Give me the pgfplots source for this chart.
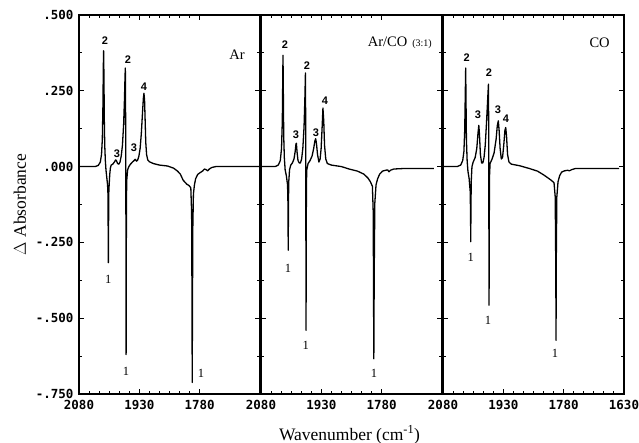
\documentclass[border=0pt]{standalone}
\usepackage{pgfplots}
\pgfplotsset{compat=1.18}
\usepackage{fontspec}
\setmainfont{Liberation Serif}
\newfontfamily\ticksfont{DejaVu Sans Mono}
\newfontfamily\peakfont{Liberation Sans}

\pgfplotsset{
 panel/.style={
  scale only axis, width=181bp, height=379bp,
  xmin=1630, xmax=2080, x dir=reverse,
  ymin=-0.75, ymax=0.5,
  ytick={-0.75,-0.5,-0.25,0,0.25,0.5},
  minor y tick num=1,
  minor x tick num=5,
  tick align=inside,
  major tick length=5bp, minor tick length=3bp,
  axis line style={line width=1.5bp},
  every tick/.style={line width=1bp, black},
  tick label style={font=\ticksfont\bfseries\fontsize{12.5bp}{14bp}\selectfont},
  xticklabel style={yshift=-3bp},
  yticklabel style={xshift=-2bp},
  yticklabels={},
 },
}
\tikzset{
 spec/.style={black, line width=1.3bp, line join=round},
 pk/.style={font=\peakfont\bfseries\fontsize{11bp}{12bp}\selectfont, inner sep=0pt},
 one/.style={font=\fontsize{12.5bp}{13bp}\selectfont, inner sep=0pt},
}

\begin{document}
\begin{tikzpicture}
\useasboundingbox (0,0) rectangle (639bp,443bp);

% ---------------- Panel 1: Ar
\begin{axis}[panel, at={(79bp,49bp)}, anchor=south west,
  xtick={2080,1930,1780}, xticklabels={2080,1930,1780},
  yticklabels={-.750,-.500,-.250,.000,.250,.500},
  ylabel={$\Delta$ Absorbance},
  ylabel style={font=\fontsize{17.5bp}{20bp}\selectfont, xshift=0bp, yshift=3bp},
]
\addplot[spec] coordinates {
(2080,0) (2040,0) (2032,0.004) (2027,0.015) (2024,0.04) (2022,0.09) (2020.5,0.2) (2019.5,0.33) (2018.8,0.382) (2018,0.3) (2017,0.15) (2016,0.07) (2014.5,0.02) (2013,-0.01) (2011,-0.035) (2009,-0.06) (2008,-0.09) (2007.5,-0.2) (2007,-0.317) (2006.5,-0.2) (2006,-0.09) (2005,-0.06) (2003.5,-0.025) (2002,-0.005) (2000,0.005) (1996,0.008) (1992,0.015) (1989,0.022) (1987,0.02) (1984,0.01) (1981,0.008) (1978,0.015) (1975,0.035) (1972,0.07) (1969,0.14) (1967,0.22) (1965.5,0.3) (1964.8,0.325) (1964.2,0.2) (1963.6,0) (1963.2,-0.3) (1962.9,-0.62) (1962.5,-0.35) (1962,-0.1) (1961,-0.04) (1959,-0.01) (1956,0.0) (1952,0.008) (1947,0.015) (1943,0.02) (1940.5,0.024) (1937,0.018) (1934,0.022) (1931,0.035) (1928,0.06) (1925,0.11) (1922,0.18) (1920,0.225) (1918.5,0.242) (1917,0.22) (1915.5,0.15) (1914,0.08) (1912,0.04) (1909,0.022) (1905,0.016) (1895,0.01) (1880,0.005) (1860,0.002) (1845,-0.005) (1835,-0.015) (1828,-0.025) (1821,-0.045) (1812,-0.058) (1806,-0.063) (1802,-0.07) (1800,-0.15) (1799,-0.45) (1798.5,-0.712) (1798,-0.5) (1797,-0.2) (1795.5,-0.09) (1793,-0.06) (1790,-0.04) (1785,-0.026) (1779,-0.02) (1773,-0.015) (1768,-0.008) (1764,-0.01) (1760,-0.014) (1756,-0.008) (1750,-0.003) (1740,0) (1700,0) (1660,0.0) (1631,0)
};
\node[pk] at (axis cs:2015.4,0.417) {2};
\node[pk] at (axis cs:1985.5,0.043) {3};
\node[pk] at (axis cs:1958.2,0.354) {2};
\node[pk] at (axis cs:1943.3,0.063) {3};
\node[pk] at (axis cs:1918.4,0.265) {4};
\node[one] at (axis cs:2007.2,-0.371) {1};
\node[one] at (axis cs:1963.1,-0.676) {1};
\node[one] at (axis cs:1776.7,-0.683) {1};
\node[font=\fontsize{14.5bp}{16bp}\selectfont, inner sep=0pt] at (axis cs:1687,0.370) {Ar};
\end{axis}

% ---------------- Panel 2: Ar/CO
\begin{axis}[panel, at={(261bp,49bp)}, anchor=south west,
  xtick={2080,1930,1780}, xticklabels={2080,1930,1780},
  xlabel={Wavenumber (cm\textsuperscript{-1})},
  xlabel style={font=\fontsize{17.5bp}{20bp}\selectfont, yshift=-9bp, xshift=-2bp},
]
\addplot[spec] coordinates {
(2080,0) (2045,0) (2037,0.005) (2032,0.02) (2029,0.06) (2027,0.15) (2026,0.28) (2025.3,0.367) (2024.5,0.25) (2023.5,0.1) (2022,0.03) (2020,-0.01) (2017,-0.03) (2014,-0.06) (2013,-0.12) (2012.3,-0.276) (2011.7,-0.12) (2011,-0.05) (2009,-0.01) (2006,0.005) (2002,0.012) (1998,0.025) (1995,0.05) (1993,0.075) (1992,0.077) (1990.5,0.05) (1988,0.02) (1985,0.012) (1982,0.012) (1979,0.025) (1976,0.06) (1973,0.13) (1971,0.22) (1969.5,0.309) (1968.8,0.1) (1968.3,-0.3) (1968,-0.54) (1967.6,-0.25) (1967,-0.05) (1966,-0.01) (1963,0.01) (1958,0.02) (1953,0.035) (1949,0.06) (1946,0.085) (1944,0.092) (1942,0.075) (1939.5,0.04) (1936,0.015) (1933,0.025) (1930.5,0.06) (1928,0.13) (1926,0.193) (1924,0.15) (1922,0.07) (1919,0.025) (1915,0.01) (1905,0.005) (1880,0.0) (1861,-0.008) (1840,-0.015) (1824,-0.025) (1814,-0.038) (1808,-0.05) (1803,-0.065) (1801,-0.15) (1799.5,-0.634) (1798.5,-0.35) (1797,-0.12) (1794,-0.06) (1790,-0.04) (1785,-0.025) (1778,-0.015) (1770,-0.012) (1765,-0.011) (1762,-0.017) (1758,-0.012) (1750,-0.008) (1720,-0.006) (1650,-0.006)
};
\node[pk] at (axis cs:2020.3,0.403) {2};
\node[pk] at (axis cs:1993,0.106) {3};
\node[pk] at (axis cs:1965.6,0.334) {2};
\node[pk] at (axis cs:1943.3,0.112) {3};
\node[pk] at (axis cs:1920.9,0.218) {4};
\node[one] at (axis cs:2012.9,-0.336) {1};
\node[one] at (axis cs:1968.9,-0.589) {1};
\node[one] at (axis cs:1799,-0.683) {1};
\node[anchor=east, inner sep=0pt] at (axis cs:1655,0.407) {\fontsize{14.5bp}{16bp}\selectfont Ar/CO\hspace{5bp}\fontsize{10bp}{12bp}\selectfont (3:1)};
\end{axis}

% ---------------- Panel 3: CO
\begin{axis}[panel, at={(443bp,49bp)}, anchor=south west,
  xtick={2080,1930,1780,1630}, xticklabels={2080,1930,1780,1630},
]
\addplot[spec] coordinates {
(2080,0) (2045,0) (2036,0.005) (2031,0.02) (2028,0.05) (2026,0.12) (2024.6,0.24) (2023.6,0.325) (2022.8,0.22) (2021.8,0.09) (2020,0.02) (2018,-0.015) (2015,-0.04) (2012.5,-0.08) (2011.5,-0.15) (2011,-0.248) (2010.5,-0.12) (2009.5,-0.04) (2008,0.0) (2005,0.015) (2000,0.03) (1996,0.06) (1993,0.11) (1991,0.136) (1989.5,0.11) (1987,0.04) (1984,0.012) (1981,0.012) (1978,0.03) (1975,0.07) (1972,0.14) (1969,0.22) (1967,0.272) (1966.3,0.1) (1965.9,-0.2) (1965.5,-0.457) (1965,-0.2) (1964.3,-0.03) (1963,0.01) (1958,0.025) (1953,0.045) (1948,0.09) (1945,0.135) (1942.5,0.151) (1940.5,0.12) (1938,0.06) (1935,0.025) (1932,0.03) (1929,0.07) (1926,0.12) (1924,0.129) (1922,0.1) (1919.5,0.04) (1916,0.015) (1910,0.008) (1890,0.003) (1866,-0.006) (1845,-0.015) (1829,-0.028) (1812,-0.044) (1804,-0.053) (1801,-0.1) (1799.5,-0.35) (1799,-0.573) (1798.3,-0.3) (1797,-0.1) (1794,-0.05) (1790,-0.03) (1785,-0.018) (1778,-0.014) (1770,-0.012) (1766,-0.014) (1760,-0.01) (1750,-0.006) (1700,-0.006) (1642,-0.006)
};
\node[pk] at (axis cs:2021,0.360) {2};
\node[pk] at (axis cs:1993,0.172) {3};
\node[pk] at (axis cs:1965.6,0.311) {2};
\node[pk] at (axis cs:1943.3,0.188) {3};
\node[pk] at (axis cs:1923.4,0.159) {4};
\node[one] at (axis cs:2011.1,-0.298) {1};
\node[one] at (axis cs:1968.1,-0.506) {1};
\node[one] at (axis cs:1801.5,-0.617) {1};
\node[font=\fontsize{14.5bp}{16bp}\selectfont, inner sep=0pt] at (axis cs:1690.7,0.410) {CO};
\end{axis}
\end{tikzpicture}
\end{document}
